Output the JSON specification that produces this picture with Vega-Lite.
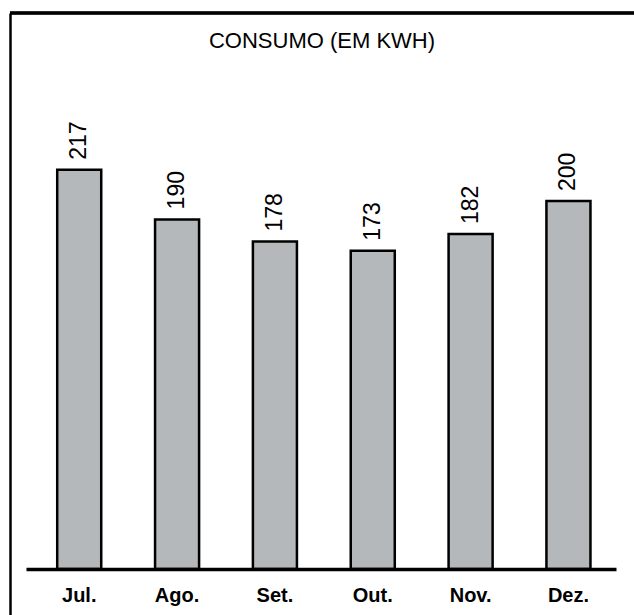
{
  "$schema": "https://vega.github.io/schema/vega-lite/v6.json",
  "autosize": {"type": "none"},
  "padding": {"left": 10, "top": 13, "right": 0, "bottom": 0},
  "width": 624,
  "height": 602,
  "background": "white",
  "config": {
    "view": {"stroke": null},
    "font": "Liberation Sans"
  },
  "title": {
    "text": "CONSUMO (EM KWH)",
    "font": "Liberation Sans",
    "fontSize": 22,
    "fontWeight": "normal",
    "color": "black",
    "anchor": "middle",
    "frame": "group",
    "baseline": "alphabetic",
    "offset": -58
  },
  "data": {
    "values": [
      {"mes": "Jul.", "kwh": 217},
      {"mes": "Ago.", "kwh": 190},
      {"mes": "Set.", "kwh": 178},
      {"mes": "Out.", "kwh": 173},
      {"mes": "Nov.", "kwh": 182},
      {"mes": "Dez.", "kwh": 200}
    ]
  },
  "layer": [
    {
      "mark": {"type": "bar", "fill": "#b4b8ba", "stroke": "black", "strokeWidth": 2.5},
      "encoding": {
        "x": {
          "field": "mes",
          "type": "nominal",
          "sort": null,
          "scale": {"range": [16, 606], "paddingInner": 0.55, "paddingOuter": 0.29, "align": 0.55},
          "axis": {
            "title": null,
            "orient": "bottom",
            "offset": -46,
            "domain": true,
            "domainColor": "black",
            "domainWidth": 3.5,
            "ticks": false,
            "labelAngle": 0,
            "labelFont": "Liberation Sans",
            "labelFontSize": 20,
            "labelFontWeight": "bold",
            "labelColor": "black",
            "labelPadding": 16,
            "zindex": 1
          }
        },
        "y": {
          "field": "kwh",
          "type": "quantitative",
          "scale": {"domain": [-25, 302.17], "nice": false, "zero": false},
          "axis": {
            "orient": "left",
            "title": null,
            "domain": true,
            "domainColor": "black",
            "domainWidth": 2.5,
            "labels": false,
            "ticks": false,
            "grid": false
          }
        },
        "y2": {"datum": 0}
      }
    },
    {
      "mark": {
        "type": "text",
        "angle": 270,
        "align": "left",
        "baseline": "middle",
        "dx": 10,
        "font": "Liberation Sans",
        "fontSize": 23,
        "color": "black"
      },
      "encoding": {
        "x": {"field": "mes", "type": "nominal", "sort": null},
        "y": {"field": "kwh", "type": "quantitative"},
        "text": {"field": "kwh", "type": "quantitative"}
      }
    },
    {
      "mark": {"type": "rule", "color": "black", "strokeWidth": 2.5},
      "encoding": {"y": {"datum": 302.17}}
    }
  ]
}
